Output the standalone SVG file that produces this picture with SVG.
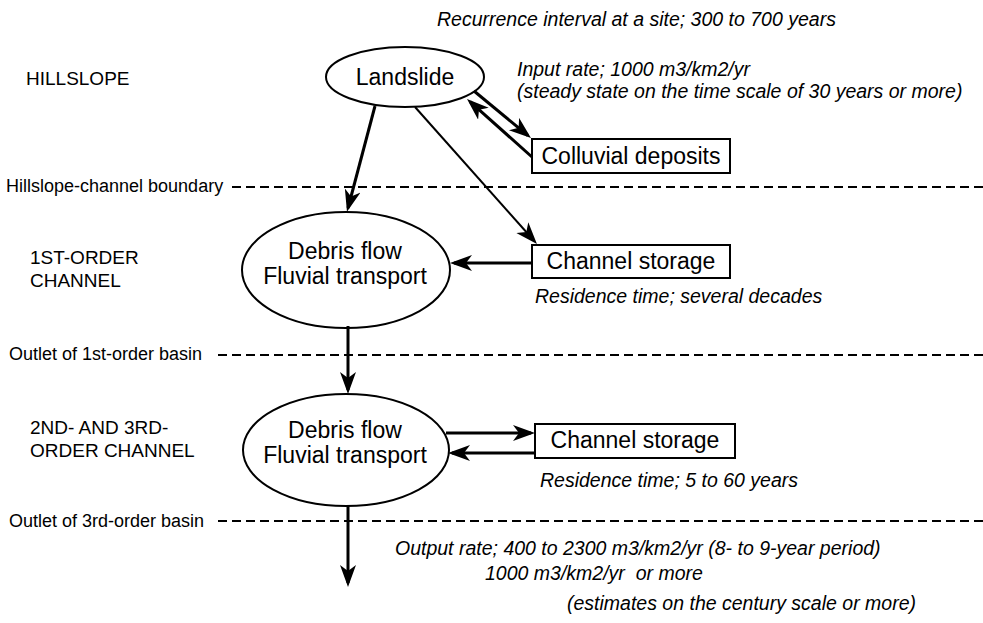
<svg xmlns="http://www.w3.org/2000/svg" width="983" height="623" viewBox="0 0 983 623">
<style>
  text { font-family: "Liberation Sans", Arial, sans-serif; fill: #000; }
  .node { font-size: 23px; text-anchor: middle; }
  .zone { font-size: 19px; }
  .bound { font-size: 18px; }
  .note { font-size: 19.5px; font-style: italic; }
  .shape { fill: #fff; stroke: #000; stroke-width: 2; }
  .dash { stroke: #000; stroke-width: 2; stroke-dasharray: 9 5; fill: none; }
  .arrow { stroke: #000; stroke-width: 3; fill: none; marker-end: url(#head); }
  .thin { stroke: #000; stroke-width: 2; fill: none; marker-end: url(#head); }
</style>
<defs>
  <marker id="head" markerUnits="userSpaceOnUse" markerWidth="24" markerHeight="18" refX="18" refY="8" orient="auto">
    <path d="M0,0 L22,8 L0,16 L6,8 Z" fill="#000"/>
  </marker>
</defs>
<rect width="983" height="623" fill="#fff"/>

<g id="labels">
  <text class="note" x="437" y="26">Recurrence interval at a site; 300 to 700 years</text>
  <text class="zone" x="26" y="85">HILLSLOPE</text>
  <text class="note" x="517" y="76">Input rate; 1000 m3/km2/yr</text>
  <text class="note" x="517" y="98">(steady state on the time scale of 30 years or more)</text>
  <text class="bound" x="6" y="192">Hillslope-channel boundary</text>
  <text class="zone" x="30" y="264">1ST-ORDER</text>
  <text class="zone" x="30" y="287">CHANNEL</text>
  <text class="note" x="535" y="303">Residence time; several decades</text>
  <text class="bound" x="9" y="360">Outlet of 1st-order basin</text>
  <text class="zone" x="30" y="434">2ND- AND 3RD-</text>
  <text class="zone" x="30" y="457">ORDER CHANNEL</text>
  <text class="note" x="540" y="487">Residence time; 5 to 60 years</text>
  <text class="bound" x="9" y="527">Outlet of 3rd-order basin</text>
  <text class="note" x="395" y="555">Output rate; 400 to 2300 m3/km2/yr (8- to 9-year period)</text>
  <text class="note" x="485" y="580">1000 m3/km2/yr&#160; or more</text>
  <text class="note" x="567" y="610">(estimates on the century scale or more)</text>
</g>

<g id="boundaries">
  <line class="dash" x1="232" y1="187" x2="983" y2="187"/>
  <line class="dash" x1="218" y1="355" x2="983" y2="355"/>
  <line class="dash" x1="218" y1="521" x2="983" y2="521"/>
</g>

<g id="landslide">
  <ellipse class="shape" cx="405" cy="77" rx="79" ry="30"/>
  <text class="node" x="405" y="85">Landslide</text>
</g>
<g id="colluvial">
  <rect class="shape" x="532" y="139" width="198" height="34"/>
  <text class="node" x="631" y="164">Colluvial deposits</text>
</g>
<g id="flow1">
  <ellipse class="shape" cx="346" cy="270" rx="104" ry="58"/>
  <text class="node" x="345" y="259">Debris flow</text>
  <text class="node" x="345" y="284">Fluvial transport</text>
</g>
<g id="storage1">
  <rect class="shape" x="532" y="245" width="198" height="33"/>
  <text class="node" x="631" y="269">Channel storage</text>
</g>
<g id="flow2">
  <ellipse class="shape" cx="346" cy="450" rx="103" ry="56"/>
  <text class="node" x="345" y="438">Debris flow</text>
  <text class="node" x="345" y="463">Fluvial transport</text>
</g>
<g id="storage2">
  <rect class="shape" x="535" y="424" width="200" height="34"/>
  <text class="node" x="635" y="448">Channel storage</text>
</g>

<g id="connectors">
  <line class="arrow" x1="375" y1="106" x2="348" y2="208"/>
  <line class="thin" x1="415" y1="107" x2="534.3" y2="241"/>
  <line class="arrow" x1="474" y1="91" x2="527.9" y2="135.5"/>
  <line class="arrow" x1="532" y1="157" x2="470" y2="101.7"/>
  <line class="arrow" x1="532" y1="263" x2="454" y2="263"/>
  <line class="arrow" x1="348" y1="326" x2="348" y2="390"/>
  <line class="arrow" x1="446" y1="433" x2="531" y2="433"/>
  <line class="arrow" x1="535" y1="453" x2="452" y2="453"/>
  <line class="arrow" x1="348" y1="506" x2="348" y2="583"/>
</g>
</svg>
